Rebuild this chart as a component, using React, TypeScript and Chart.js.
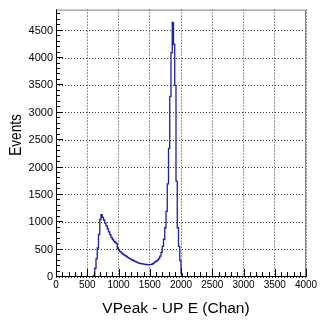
import React, { useEffect, useRef } from 'react';
import { Chart, registerables } from 'chart.js';

Chart.register(...registerables);

// Histogram bin centres (channels) and counts
const binCenters = [
  590, 610, 630, 650, 670, 690, 710, 730, 750, 770,
  790, 810, 830, 850, 870, 890, 910, 930, 950, 970,
  990, 1010, 1030, 1050, 1070, 1090, 1110, 1130, 1150, 1170,
  1190, 1210, 1230, 1250, 1270, 1290, 1310, 1330, 1350, 1370,
  1390, 1410, 1430, 1450, 1470, 1490, 1510, 1530, 1550, 1570,
  1590, 1610, 1630, 1650, 1670, 1690, 1710, 1730, 1750, 1770,
  1790, 1810, 1830, 1850, 1870, 1890, 1910, 1930, 1950, 1970,
  1990, 2010, 2030,
];
const eventCounts = [
  0, 30, 160, 330, 530, 780, 1050, 1140, 1090, 1040,
  985, 935, 880, 825, 775, 725, 685, 655, 635, 615,
  525, 490, 462, 440, 420, 405, 390, 375, 360, 345,
  332, 318, 306, 295, 284, 273, 263, 255, 248, 242,
  238, 234, 230, 228, 226, 225, 226, 232, 242, 258,
  275, 292, 310, 335, 380, 450, 560, 690, 900, 1200,
  1700, 2350, 3300, 4100, 4650, 4250, 3500, 1750, 900, 560,
  300, 60, 0,
];
const xTickValues = [0, 500, 1000, 1500, 2000, 2500, 3000, 3500, 4000];
const yTickValues = [0, 500, 1000, 1500, 2000, 2500, 3000, 3500, 4000, 4500];
const xMin = 0;
const xMax = 4000;
const yMin = 0;
const yMax = 4885;
const xTitle = 'VPeak - UP E (Chan)';
const yTitle = 'Events';

const FONT = '"Liberation Sans", Arial, Helvetica, sans-serif';

const rootStyle = {
  id: 'rootStyle',
  afterDatasetsDraw(chart: any) {
    const { ctx, chartArea: a } = chart;
    const xs = chart.scales.x;
    const ys = chart.scales.y;
    ctx.save();
    ctx.lineWidth = 1;
    // frame (top/right)
    ctx.strokeStyle = '#808080';
    ctx.beginPath();
    ctx.moveTo(a.left, a.top + 0.5);
    ctx.lineTo(a.right - 0.5, a.top + 0.5);
    ctx.lineTo(a.right - 0.5, a.bottom);
    ctx.stroke();
    // axes + inward ticks
    ctx.strokeStyle = '#000';
    ctx.beginPath();
    ctx.moveTo(a.left + 0.5, a.top);
    ctx.lineTo(a.left + 0.5, a.bottom - 0.5);
    ctx.lineTo(a.right, a.bottom - 0.5);
    for (let v = xMin; v <= xMax; v += 100) {
      const px = Math.round(xs.getPixelForValue(v)) + 0.5;
      const len = v % 500 === 0 ? 8 : 5;
      ctx.moveTo(px, a.bottom);
      ctx.lineTo(px, a.bottom - len);
    }
    for (let v = yMin; v <= yMax; v += 100) {
      const py = Math.round(ys.getPixelForValue(v)) - 0.5;
      const len = v % 500 === 0 ? 7 : 4;
      ctx.moveTo(a.left, py);
      ctx.lineTo(a.left + len, py);
    }
    ctx.stroke();
    // axis titles
    ctx.fillStyle = '#000';
    ctx.textAlign = 'center';
    ctx.textBaseline = 'middle';
    ctx.font = `15.5px ${FONT}`;
    ctx.fillText(xTitle, a.left + (a.right - a.left) * 0.48, 309);
    ctx.translate(16.5, 135);
    ctx.rotate(-Math.PI / 2);
    ctx.scale(0.85, 1);
    ctx.font = `16px ${FONT}`;
    ctx.fillText(yTitle, 0, 0);
    ctx.restore();
  },
};

export default function App() {
  const canvasRef = useRef<HTMLCanvasElement | null>(null);

  useEffect(() => {
    const canvas = canvasRef.current;
    if (!canvas) return;
    const chart = new Chart(canvas, {
      type: 'line',
      data: {
        datasets: [
          {
            data: binCenters.map((x, i) => ({ x, y: eventCounts[i] })),
            borderColor: '#1e1ea6',
            borderWidth: 1.3,
            pointRadius: 0,
            fill: false,
            stepped: 'middle',
            tension: 0,
          },
        ],
      },
      options: {
        animation: false,
        responsive: false,
        devicePixelRatio: 1,
        layout: { padding: { top: 7, right: 14, bottom: 0, left: 0 } },
        plugins: {
          legend: { display: false },
          tooltip: { enabled: false },
          title: { display: false },
        },
        scales: {
          x: {
            type: 'linear',
            min: xMin,
            max: xMax,
            afterBuildTicks: (scale: any) => {
              scale.ticks = xTickValues.map((value) => ({ value }));
            },
            afterFit: (scale: any) => {
              scale.height = 49;
            },
            ticks: {
              autoSkip: false,
              maxRotation: 0,
              padding: 2,
              color: '#000',
              font: { family: FONT, size: 10 },
              callback: (v: any) => String(v),
            },
            grid: { color: '#333', drawTicks: false, lineWidth: 1 },
            border: { display: false, dash: [1, 2] },
          },
          y: {
            type: 'linear',
            min: yMin,
            max: yMax,
            afterBuildTicks: (scale: any) => {
              scale.ticks = yTickValues.map((value) => ({ value }));
            },
            afterFit: (scale: any) => {
              scale.width = 56;
            },
            ticks: {
              autoSkip: false,
              padding: 3,
              color: '#000',
              font: { family: FONT, size: 11 },
              callback: (v: any) => String(v),
            },
            grid: { color: '#333', drawTicks: false, lineWidth: 1 },
            border: { display: false, dash: [1, 2] },
          },
        },
      },
      plugins: [rootStyle],
    });
    return () => chart.destroy();
  }, []);

  return (
    <div style={{ position: 'absolute', left: 0, top: 0, width: 320, height: 326, background: '#fff' }}>
      <canvas ref={canvasRef} width={320} height={326} />
    </div>
  );
}
